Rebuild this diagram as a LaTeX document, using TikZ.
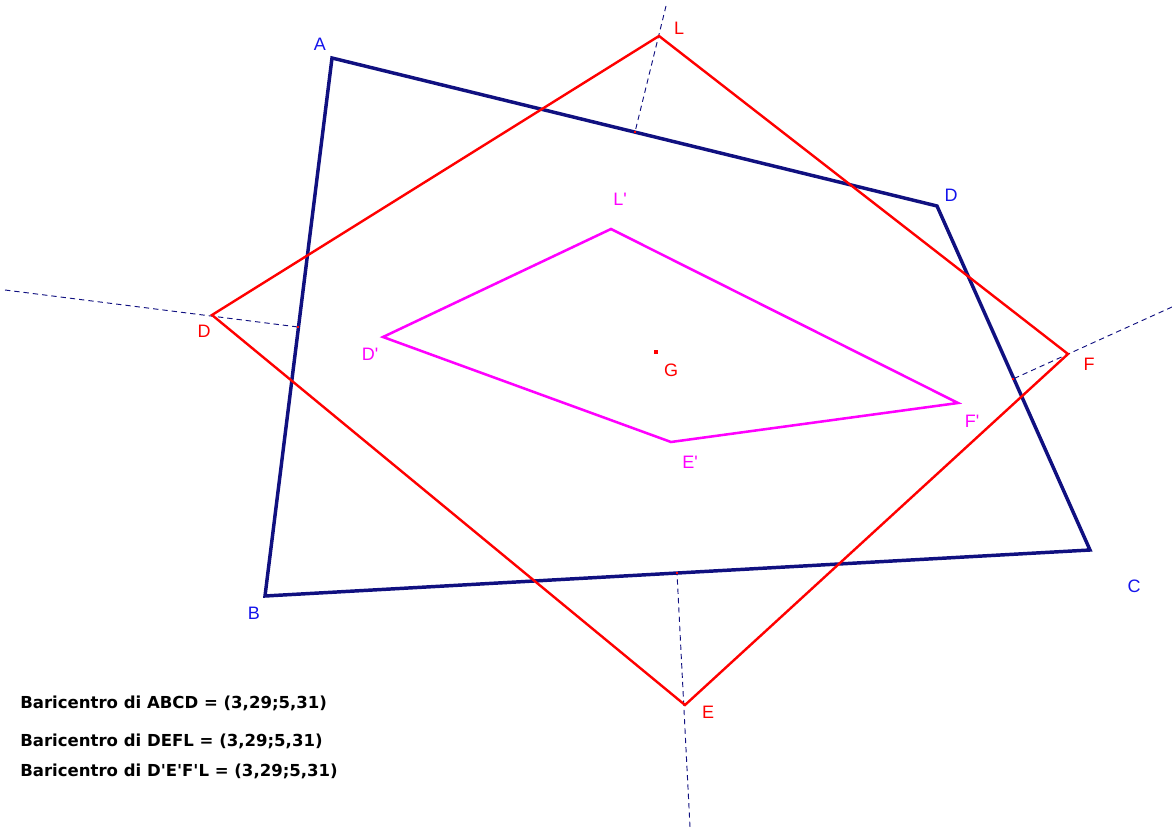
\documentclass[tikz,border=0pt]{standalone}
\usepackage{fontspec}
\setmainfont{Liberation Sans}
\newfontfamily\infofont{DejaVu Sans}
\usepackage{tikz}
\usetikzlibrary{positioning}

\definecolor{quadblue}{RGB}{16,16,128}
\definecolor{labblue}{RGB}{20,20,235}
\definecolor{purplish}{RGB}{255,0,255}

\begin{document}
\begin{tikzpicture}[x=0.75pt, y=-0.75pt,
    quad/.style={draw=quadblue, line width=2.6pt, line join=miter},
    redquad/.style={draw=red, line width=1.8pt},
    inner/.style={draw=purplish, line width=1.9pt},
    perp/.style={draw=quadblue, dashed, dash pattern=on 4pt off 3pt, line width=0.7pt},
    lab/.style={inner sep=0pt, font=\fontsize{13.5}{15}\selectfont},
    foot/.style={fill=red, inner sep=0pt, minimum size=2pt},
    info/.style={anchor=west, inner sep=0pt, font=\infofont\fontsize{12.4}{14}\selectfont\bfseries}]

    \useasboundingbox (0,0) rectangle (1172,827);

    % vertices
    \coordinate (A) at (332,58);
    \coordinate (Dq) at (937,206);
    \coordinate (C) at (1090,550);
    \coordinate (B) at (265,596);
    \coordinate (L) at (659,36);
    \coordinate (F) at (1068,354);
    \coordinate (E) at (685,705);
    \coordinate (Dr) at (212,315);
    \coordinate (Li) at (611,229);
    \coordinate (Fi) at (958,403);
    \coordinate (Ei) at (671,442);
    \coordinate (Di) at (383,337);

    % perpendicular feet and far ends
    \coordinate (hL) at (635,132);
    \coordinate (hD) at (298,327);
    \coordinate (hF) at (1013,379);
    \coordinate (hE) at (677,573);
    \coordinate (tL) at (666,6);
    \coordinate (tD) at (5,290);
    \coordinate (tF) at (1172,307);
    \coordinate (tE) at (690,827);

    \draw [perp] (tL) -- (hL);
    \draw [perp] (tD) -- (hD);
    \draw [perp] (tF) -- (hF);
    \draw [perp] (tE) -- (hE);

    \draw [quad] (A) -- (Dq) -- (C) -- (B) -- cycle;
    \draw [redquad] (L) -- (F) -- (E) -- (Dr) -- cycle;
    \draw [inner] (Li) -- (Fi) -- (Ei) -- (Di) -- cycle;

    \node [foot] (fL) at (hL) {};
    \node [foot] (fD) at (hD) {};
    \node [foot] (fF) at (hF) {};
    \node [foot] (fE) at (hE) {};
    \node [foot, minimum size=3.5pt] (G) at (656,352) {};

    % labels
    \node [lab, text=labblue] at (320,44) {A};
    \node [lab, text=labblue] at (951,195) {D};
    \node [lab, text=labblue] at (1134,586) {C};
    \node [lab, text=labblue] at (254,613) {B};
    \node [lab, text=red] at (679,28) {L};
    \node [lab, text=red] at (1089,364) {F};
    \node [lab, text=red] at (708,712) {E};
    \node [lab, text=red] at (204,331) {D};
    \node [lab, text=red] at (671,370) {G};
    \node [lab, text=purplish] at (620,199) {L\textquotesingle};
    \node [lab, text=purplish] at (370,354) {D\textquotesingle};
    \node [lab, text=purplish] at (972,421) {F\textquotesingle};
    \node [lab, text=purplish] at (690,462) {E\textquotesingle};

    \node [info] (b1) at (20,703) {Baricentro di ABCD = (3,29;5,31)};
    \node [info] (b2) at (20,741) {Baricentro di DEFL = (3,29;5,31)};
    \node [info] (b3) at (20,771) {Baricentro di D\textquotesingle E\textquotesingle F\textquotesingle L = (3,29;5,31)};
\end{tikzpicture}
\end{document}
